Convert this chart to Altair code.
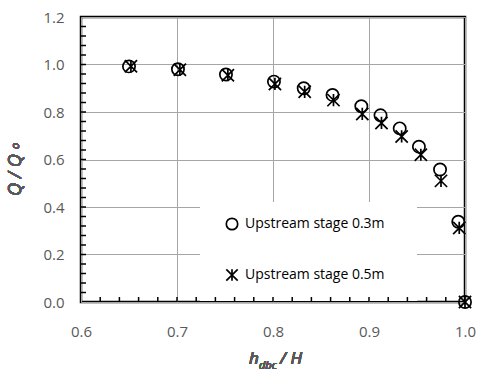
import altair as alt
import pandas as pd

# ---- data ----
h_03 = [0.650, 0.701, 0.751, 0.801, 0.832, 0.862, 0.892, 0.912, 0.932, 0.952, 0.974, 0.993, 1.000]
q_03 = [0.992, 0.980, 0.958, 0.928, 0.900, 0.872, 0.824, 0.786, 0.731, 0.654, 0.558, 0.338, 0.000]
h_05 = [0.652, 0.703, 0.753, 0.802, 0.833, 0.863, 0.893, 0.913, 0.934, 0.954, 0.975, 0.994, 1.000]
q_05 = [0.993, 0.978, 0.955, 0.918, 0.885, 0.850, 0.792, 0.754, 0.697, 0.620, 0.510, 0.312, 0.000]
series_names = ["Upstream stage 0.3m", "Upstream stage 0.5m"]

x_major = [0.6, 0.7, 0.8, 0.9, 1.0]
y_major = [0.0, 0.2, 0.4, 0.6, 0.8, 1.0, 1.2]
x_minor = [0.62, 0.64, 0.66, 0.68, 0.70, 0.72, 0.74, 0.76, 0.78, 0.80, 0.82, 0.84, 0.86, 0.88,
           0.90, 0.92, 0.94, 0.96, 0.98]
y_minor = [0.04, 0.08, 0.12, 0.16, 0.20, 0.24, 0.28, 0.32, 0.36, 0.40, 0.44, 0.48, 0.52, 0.56,
           0.60, 0.64, 0.68, 0.72, 0.76, 0.80, 0.84, 0.88, 0.92, 0.96, 1.00, 1.04, 1.08, 1.12, 1.16]

pts = pd.DataFrame(
    {"h": h_03 + h_05, "q": q_03 + q_05,
     "series": [series_names[0]] * len(h_03) + [series_names[1]] * len(h_05)}
)
xt = pd.DataFrame({"v": x_minor})
yt = pd.DataFrame({"v": y_minor})

FONT = "Open Sans"
GREY = "#595959"
STAR = "M-1,-1L1,1M-1,1L1,-1M0,-1L0,1"

x_scale = alt.Scale(domain=[0.6, 1.0], nice=False, zero=False)
y_scale = alt.Scale(domain=[0.0, 1.2], nice=False)
x_axis = alt.Axis(values=x_major, format=".1f", title=None, ticks=False, domain=False,
                  grid=True, gridColor="#a6a6a6", gridWidth=1, labelFont=FONT,
                  labelFontSize=15, labelColor=GREY, labelPadding=22, labelFlush=False)
y_axis = alt.Axis(values=y_major, format=".1f", title=None, ticks=False, domain=False,
                  grid=True, gridColor="#a6a6a6", gridWidth=1, labelFont=FONT,
                  labelFontSize=15, labelColor=GREY, labelPadding=17, labelFlush=False)

points = alt.Chart(pts).mark_point(filled=False, strokeWidth=1.7, opacity=1).encode(
    x=alt.X("h:Q", scale=x_scale, axis=x_axis),
    y=alt.Y("q:Q", scale=y_scale, axis=y_axis),
    shape=alt.Shape("series:N", scale=alt.Scale(domain=series_names, range=["circle", STAR]),
                    legend=alt.Legend(title=None, orient="none", legendX=144, legendY=200,
                                      padding=0, rowPadding=31, labelOffset=6,
                                      labelFont=FONT, labelFontSize=14, labelColor="black",
                                      symbolSize=130, symbolStrokeWidth=1.7,
                                      symbolStrokeColor="black")),
    color=alt.value("black"),
    size=alt.value(150),
)

legend_bg = alt.Chart(pts).mark_rect(color="white").encode(
    x=alt.value(119), x2=alt.value(336), y=alt.value(185), y2=alt.value(284)
)

xticks = alt.Chart(xt).mark_rule(color="black", strokeWidth=1.5).encode(
    x=alt.X("v:Q", scale=x_scale, axis=x_axis), y=alt.value(285), y2=alt.value(280)
)
yticks = alt.Chart(yt).mark_rule(color="black", strokeWidth=1.5).encode(
    y=alt.Y("v:Q", scale=y_scale, axis=y_axis), x=alt.value(0), x2=alt.value(5)
)

def txt(s, x, y, size, angle=0, align="left", baseline="alphabetic"):
    return alt.Chart(pts).mark_text(
        text=s, font=FONT, fontSize=size, fontStyle="italic", color=GREY,
        align=align, baseline=baseline, angle=angle
    ).encode(x=alt.value(x), y=alt.value(y))

# x title: h_dbc / H
xt_h = txt("h", 168, 347, 17)
xt_sub = txt("dbc", 178, 352, 11)
xt_rest = txt("/ H", 199, 347, 17)
# y title: Q / Q_o (rotated)
yt_main = txt("Q  / Q", -60, 179, 18, angle=270)
yt_sub = txt("o", -62, 132, 11, angle=270)

chart = alt.layer(
    legend_bg, xticks, yticks, points, xt_h, xt_sub, xt_rest, yt_main, yt_sub
).properties(
    width=384, height=285,
    autosize=alt.AutoSizeParams(type="none"),
    padding={"left": 81, "top": 17, "right": 14, "bottom": 78},
).configure_view(stroke="black", strokeWidth=2.5)

chart.save("out.html", embed_options={"renderer": "svg", "actions": False})
